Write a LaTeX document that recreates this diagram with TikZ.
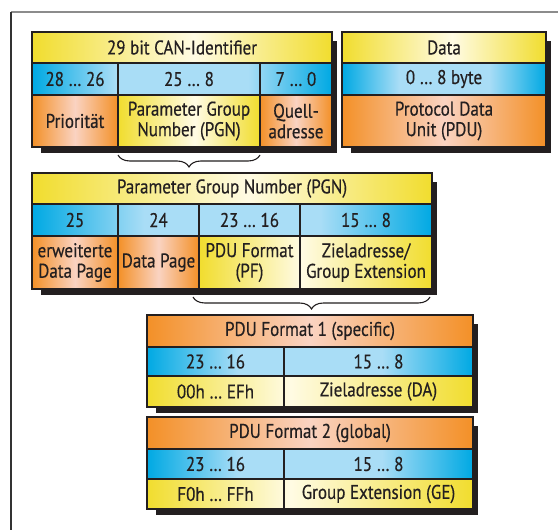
\documentclass[tikz,border=0pt]{standalone}
\usepackage{fontspec}
\setmainfont[FakeStretch=0.86,FakeBold=0.45]{PT Sans}
\usetikzlibrary{decorations.pathreplacing}

\definecolor{ink}{HTML}{231F20}
\definecolor{yeS}{HTML}{F1DD2E}
\definecolor{yeL}{HTML}{FFFBE4}
\definecolor{cyS}{HTML}{00A9E3}
\definecolor{cyL}{HTML}{A9DDF6}
\definecolor{orS}{HTML}{F39027}
\definecolor{orL}{HTML}{FAD3C2}

% horizontal colour bands (the inner 25bp..75bp span covers the filled path)
\pgfdeclarehorizontalshading{yband}{100bp}{color(0bp)=(yeS); color(25bp)=(yeS); color(52bp)=(yeL); color(75bp)=(yeS); color(100bp)=(yeS)}
\pgfdeclarehorizontalshading{ybandL}{100bp}{color(0bp)=(yeS); color(25bp)=(yeS); color(47bp)=(yeL); color(75bp)=(yeS); color(100bp)=(yeS)}
\pgfdeclarehorizontalshading{cband}{100bp}{color(0bp)=(cyS); color(25bp)=(cyS); color(39bp)=(cyL); color(61bp)=(cyL); color(75bp)=(cyS); color(100bp)=(cyS)}
\pgfdeclarehorizontalshading{oband}{100bp}{color(0bp)=(orS); color(25bp)=(orS); color(50bp)=(orL); color(75bp)=(orS); color(100bp)=(orS)}

\newcommand\dropshadow[4]{\fill[ink] ({#1+9},{#2+9}) rectangle ({#3+5},{#4+6});}

\begin{document}
\begin{tikzpicture}[x=1pt,y=-1pt,
  grid/.style={draw=ink,line width=1.8pt},
  lbl/.style={text=ink,align=center,inner sep=0pt,font=\fontsize{19.8}{20.5}\selectfont},
  bracestyle/.style={draw=ink,line width=1.1pt,decorate,decoration={brace,amplitude=12pt}},
  frametop/.style={draw=black!45,line width=1.4pt},
  frameleft/.style={draw=black!80,line width=1.4pt}]
\useasboundingbox (0,0) rectangle (558,530);
\fill[white] (0,0) rectangle (558,530);

% outer frame
\draw[frametop] (11,12) -- (558,12);
\draw[frameleft] (11,12) -- (11,530);

% ---------- 29 bit CAN-Identifier ----------
\dropshadow{32}{32}{332}{147}
\fill[shading=yband] (32,32) rectangle (332,63);
\fill[shading=cband] (32,63) rectangle (332,95);
\fill[shading=oband] (32,95) rectangle (118,147);
\fill[shading=yband] (118,95) rectangle (260,147);
\fill[shading=oband] (260,95) rectangle (332,147);
\draw[grid] (32,32) rectangle (332,147);
\draw[grid] (32,63) -- (332,63) (32,95) -- (332,95);
\draw[grid] (118,63) -- (118,147) (260,63) -- (260,147);
\node[lbl] (canid) at (182,47.5) {29 bit CAN-Identifier};
\node[lbl] (bitsprio) at (75,79) {28 … 26};
\node[lbl] (bitspgn) at (189,79) {25 … 8};
\node[lbl] (bitssa) at (296,79) {7 … 0};
\node[lbl] (prio) at (75,121) {Priorität};
\node[lbl] (pgn) at (189,121) {Parameter Group\\Number (PGN)};
\node[lbl] (sa) at (296,121) {Quell-\\adresse};

% ---------- Data ----------
\dropshadow{342}{32}{546}{147}
\fill[shading=yband] (342,32) rectangle (546,63);
\fill[shading=cband] (342,63) rectangle (546,95);
\fill[shading=oband] (342,95) rectangle (546,147);
\draw[grid] (342,32) rectangle (546,147);
\draw[grid] (342,63) -- (546,63) (342,95) -- (546,95);
\node[lbl] (data) at (444,47.5) {Data};
\node[lbl] (bytes) at (444,79) {0 … 8 byte};
\node[lbl] (pdu) at (444,121) {Protocol Data\\Unit (PDU)};

% brace under the PGN field
\coordinate (brAr) at (260,155);
\coordinate (brAl) at (118,155);
\draw[bracestyle] (brAr) -- (brAl);

% ---------- Parameter Group Number ----------
\dropshadow{32}{173}{432}{289}
\fill[shading=yband] (32,173) rectangle (432,204);
\fill[shading=cband] (32,204) rectangle (432,236);
\fill[shading=oband] (32,236) rectangle (118,289);
\fill[shading=oband] (118,236) rectangle (199,289);
\fill[shading=ybandL] (199,236) rectangle (432,289);
\draw[grid] (32,173) rectangle (432,289);
\draw[grid] (32,204) -- (432,204) (32,236) -- (432,236);
\draw[grid] (118,204) -- (118,289) (199,204) -- (199,289) (300,204) -- (300,289);
\node[lbl] (pgntitle) at (232,188.5) {Parameter Group Number (PGN)};
\node[lbl] (b25) at (75,220) {25};
\node[lbl] (b24) at (158.5,220) {24};
\node[lbl] (b2316) at (249.5,220) {23 … 16};
\node[lbl] (b158) at (366,220) {15 … 8};
\node[lbl] (edp) at (75,262.5) {erweiterte\\Data Page};
\node[lbl] (dp) at (158.5,262.5) {Data Page};
\node[lbl] (pf) at (249.5,262.5) {PDU Format\\(PF)};
\node[lbl] (daext) at (366,262.5) {Zieladresse/\\Group Extension};

% brace under PF and PS
\coordinate (brBr) at (430,297);
\coordinate (brBl) at (193,297);
\draw[bracestyle] (brBr) -- (brBl);

% ---------- PDU Format 1 ----------
\dropshadow{147}{315}{473}{407}
\fill[shading=oband] (147,315) rectangle (473,347);
\fill[shading=cband] (147,347) rectangle (473,376);
\fill[shading=ybandL] (147,376) rectangle (473,407);
\draw[grid] (147,315) rectangle (473,407);
\draw[grid] (147,347) -- (473,347) (147,376) -- (473,376);
\draw[grid] (284,347) -- (284,407);
\node[lbl] (pdu1) at (310,331) {PDU Format 1 (specific)};
\node[lbl] (p1a) at (215.5,361.5) {23 … 16};
\node[lbl] (p1b) at (378.5,361.5) {15 … 8};
\node[lbl] (p1c) at (215.5,391.5) {00h … EFh};
\node[lbl] (p1d) at (378.5,391.5) {Zieladresse (DA)};

% ---------- PDU Format 2 ----------
\dropshadow{147}{417}{473}{509}
\fill[shading=oband] (147,417) rectangle (473,449);
\fill[shading=cband] (147,449) rectangle (473,479);
\fill[shading=ybandL] (147,479) rectangle (473,509);
\draw[grid] (147,417) rectangle (473,509);
\draw[grid] (147,449) -- (473,449) (147,479) -- (473,479);
\draw[grid] (284,449) -- (284,509);
\node[lbl] (pdu2) at (310,433) {PDU Format 2 (global)};
\node[lbl] (p2a) at (215.5,464) {23 … 16};
\node[lbl] (p2b) at (378.5,464) {15 … 8};
\node[lbl] (p2c) at (215.5,494) {F0h … FFh};
\node[lbl] (p2d) at (378.5,494) {Group Extension (GE)};
\end{tikzpicture}
\end{document}
